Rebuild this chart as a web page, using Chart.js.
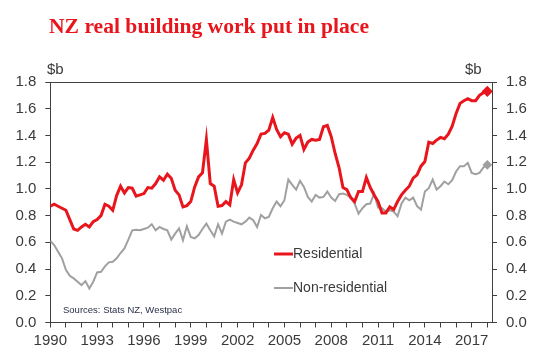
<!DOCTYPE html>
<html lang="en">
<head>
<meta charset="UTF-8">
<title>NZ real building work put in place</title>
<script src="https://cdn.jsdelivr.net/npm/chart.js"></script>
<style>
    body { margin: 0; background: #fff; }
    #wrap { width: 541px; height: 363px; }
</style>
</head>
<body>
<div id="wrap"><canvas id="chart" width="541" height="363"></canvas></div>

<script>
// quarterly, first point = 1990
const startYear = 1990;
const residential = [
    0.87, 0.885, 0.87, 0.855, 0.84, 0.77, 0.70, 0.69, 0.715, 0.735,
    0.715, 0.755, 0.77, 0.80, 0.885, 0.87, 0.84, 0.95, 1.02, 0.97,
    1.01, 1.005, 0.945, 0.955, 0.965, 1.01, 1.005, 1.04, 1.09, 1.065,
    1.11, 1.08, 0.99, 0.955, 0.865, 0.875, 0.905, 1.015, 1.09, 1.12,
    1.37, 1.04, 1.02, 0.87, 0.875, 0.905, 0.88, 1.07, 0.97, 1.03,
    1.195, 1.23, 1.29, 1.34, 1.41, 1.415, 1.44, 1.535, 1.445, 1.39,
    1.42, 1.41, 1.335, 1.38, 1.40, 1.295, 1.35, 1.37, 1.365, 1.37,
    1.465, 1.475, 1.39, 1.265, 1.16, 1.01, 0.995, 0.935, 0.905, 0.98,
    0.98, 1.085, 1.01, 0.955, 0.905, 0.82, 0.82, 0.865, 0.845, 0.905,
    0.955, 0.99, 1.02, 1.08, 1.105, 1.17, 1.205, 1.35, 1.34, 1.365,
    1.385, 1.375, 1.41, 1.47, 1.565, 1.64, 1.66, 1.675, 1.66, 1.66,
    1.70, 1.72, 1.73
];
const nonResidential = [
    0.61, 0.58, 0.53, 0.48, 0.395, 0.35, 0.33, 0.305, 0.28, 0.31,
    0.255, 0.305, 0.375, 0.38, 0.42, 0.45, 0.455, 0.48, 0.52, 0.555,
    0.62, 0.69, 0.695, 0.69, 0.70, 0.71, 0.735, 0.69, 0.715, 0.70,
    0.69, 0.62, 0.665, 0.705, 0.615, 0.72, 0.64, 0.63, 0.655, 0.70,
    0.74, 0.69, 0.645, 0.735, 0.665, 0.755, 0.77, 0.755, 0.745, 0.735,
    0.755, 0.785, 0.765, 0.715, 0.805, 0.78, 0.79, 0.855, 0.905, 0.87,
    0.915, 1.07, 1.03, 0.995, 1.06, 1.015, 0.94, 0.905, 0.955, 0.935,
    0.94, 0.98, 0.935, 0.91, 0.96, 0.965, 0.955, 0.935, 0.89, 0.815,
    0.855, 0.885, 0.89, 0.965, 0.86, 0.855, 0.83, 0.84, 0.83, 0.795,
    0.89, 0.935, 0.915, 0.935, 0.87, 0.845, 0.98, 1.005, 1.07, 0.995,
    1.02, 1.055, 1.035, 1.065, 1.13, 1.17, 1.17, 1.195, 1.12, 1.11,
    1.12, 1.16, 1.18
];
const yTicks = [0, 0.2, 0.4, 0.6, 0.8, 1.0, 1.2, 1.4, 1.6, 1.8];
const labelYears = [1990, 1993, 1996, 1999, 2002, 2005, 2008, 2011, 2014, 2017];

const RED = '#e8161c';
const GREY = '#a0a0a0';
const AXIS = '#404040';
const TEXT = '#3a3a3a';
const FONT = '"Liberation Sans", Arial, sans-serif';

function toPoints(arr) {
    return arr.map((v, i) => ({ x: startYear + i / 4, y: v }));
}
function lastOnly(size) {
    return c => c.dataIndex === c.dataset.data.length - 1 ? size : 0;
}

// title, $b, sources, legend, top border
const extras = {
    id: 'extras',
    afterDraw(chart) {
        const ctx = chart.ctx, a = chart.chartArea;
        ctx.save();
        ctx.strokeStyle = AXIS;
        ctx.lineWidth = 1;
        ctx.beginPath();
        ctx.moveTo(a.left, a.top + 0.5);
        ctx.lineTo(a.right, a.top + 0.5);
        ctx.stroke();

        ctx.fillStyle = RED;
        ctx.font = 'bold 21.6px "Liberation Serif", "Times New Roman", serif';
        ctx.textBaseline = 'alphabetic';
        ctx.textAlign = 'left';
        ctx.fillText('NZ real building work put in place', 49, 33);

        ctx.fillStyle = TEXT;
        ctx.font = '15px ' + FONT;
        ctx.textBaseline = 'middle';
        ctx.fillText('$b', 47, 70);
        ctx.fillText('$b', 465, 70);

        ctx.font = '9.5px ' + FONT;
        ctx.fillStyle = '#2a3148';
        ctx.fillText('Sources: Stats NZ, Westpac', 63, 310);

        const items = [
            { label: 'Residential', color: RED, width: 3, y: 254 },
            { label: 'Non-residential', color: GREY, width: 2, y: 288 }
        ];
        ctx.font = '14px ' + FONT;
        items.forEach(it => {
            ctx.strokeStyle = it.color;
            ctx.lineWidth = it.width;
            ctx.beginPath();
            ctx.moveTo(274, it.y);
            ctx.lineTo(293, it.y);
            ctx.stroke();
            ctx.fillStyle = TEXT;
            ctx.fillText(it.label, 293, it.y);
        });
        ctx.restore();
    }
};

const yAxis = (pos, w) => ({
    position: pos,
    min: 0,
    max: 1.8,
    afterFit(s) { s.width = w; },
    afterBuildTicks(s) { s.ticks = yTicks.map(v => ({ value: v })); },
    border: { color: AXIS, width: 1 },
    grid: { drawOnChartArea: false, tickLength: 5, color: AXIS },
    ticks: {
        padding: 9,
        color: TEXT,
        font: { size: 15, family: FONT },
        callback: v => v.toFixed(1)
    }
});

new Chart(document.getElementById('chart'), {
    type: 'line',
    data: {
        datasets: [
            {
                label: 'Residential',
                data: toPoints(residential),
                borderColor: RED,
                backgroundColor: RED,
                borderWidth: 3,
                pointStyle: 'rectRot',
                pointRadius: lastOnly(3.5),
                tension: 0
            },
            {
                label: 'Non-residential',
                data: toPoints(nonResidential),
                borderColor: GREY,
                backgroundColor: GREY,
                borderWidth: 2,
                pointStyle: 'rectRot',
                pointRadius: lastOnly(3.5),
                tension: 0
            }
        ]
    },
    options: {
        responsive: false,
        animation: false,
        devicePixelRatio: 1,
        layout: { padding: { top: 82, left: 0, right: 0, bottom: 0 } },
        plugins: { legend: { display: false }, title: { display: false }, tooltip: { enabled: false } },
        scales: {
            x: {
                type: 'linear',
                min: 1990,
                max: 2018.3,
                afterFit(s) { s.height = 40.5; },
                border: { color: AXIS, width: 1 },
                grid: { drawOnChartArea: false, tickLength: 5, color: AXIS },
                ticks: {
                    stepSize: 1,
                    includeBounds: false,
                    autoSkip: false,
                    maxRotation: 0,
                    padding: 4,
                    color: TEXT,
                    font: { size: 15, family: FONT },
                    callback: v => labelYears.includes(v) ? String(v) : ''
                }
            },
            y: yAxis('left', 50.3),
            y2: yAxis('right', 49)
        }
    },
    plugins: [extras]
});
</script>
</body>
</html>
